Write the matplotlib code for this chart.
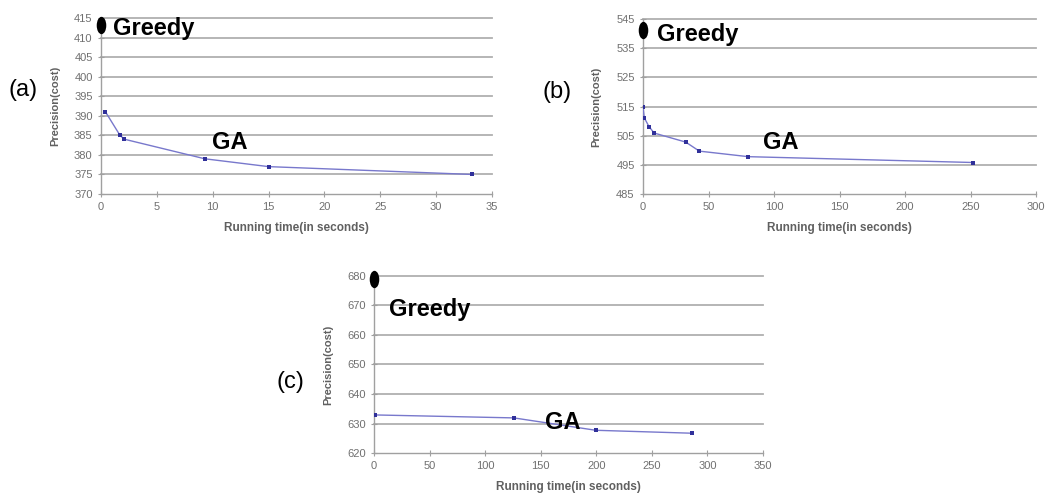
import matplotlib
matplotlib.use('Agg')
import matplotlib.pyplot as plt
from matplotlib.markers import MarkerStyle
from matplotlib.transforms import Affine2D

plt.rcParams['font.family'] = ['Liberation Sans', 'DejaVu Sans']

# panel (a)
a_time = [0.4, 1.7, 2.1, 9.3, 15.0, 33.2]
a_cost = [391, 385, 384, 379, 377, 375]
a_greedy = 413.3
# panel (b)
b_time = [0.0, 1.0, 4.6, 8.5, 32.6, 43.0, 80.3, 251.8]
b_cost = [514.8, 511.1, 508.1, 505.9, 502.8, 499.7, 497.8, 495.8]
b_greedy = 541.3
# panel (c)
c_time = [1.2, 125.8, 199.6, 286.4]
c_cost = [632.9, 631.9, 627.7, 626.7]
c_greedy = 678.9

a_xticks = list(range(0, 36, 5))
a_yticks = list(range(370, 416, 5))
b_xticks = list(range(0, 301, 50))
b_yticks = list(range(485, 546, 10))
c_xticks = list(range(0, 351, 50))
c_yticks = list(range(620, 681, 10))

W, H = 1045, 501
fig = plt.figure(figsize=(W / 100, H / 100), dpi=100)


def px_axes(left, top, right, bottom):
    return fig.add_axes([left / W, 1 - bottom / H, (right - left) / W,
                         (bottom - top) / H])


def draw_panel(ax, xs, ys, greedy, xticks, yticks, greedy_pos, ga_pos):
    ax.set_xlim(xticks[0], xticks[-1])
    ax.set_ylim(yticks[0], yticks[-1])
    ax.set_xticks(xticks)
    ax.set_yticks(yticks)
    for y in yticks[1:]:
        ax.axhline(y, color='#b0b0b0', lw=1.3, zorder=1, clip_on=False)
    for s in ['top', 'right']:
        ax.spines[s].set_visible(False)
    for s in ['left', 'bottom']:
        ax.spines[s].set_color('#a0a0a0')
        ax.spines[s].set_linewidth(1.0)
    ax.tick_params(direction='inout', length=4, width=0.8, color='#a0a0a0',
                   labelsize=8, labelcolor='#707070', pad=4)
    ax.plot(xs, ys, color='#7878cc', lw=1.0, zorder=3)
    ax.plot(xs, ys, 's', color='#30309a', ms=2.4, mew=0, zorder=4)
    ell = MarkerStyle('o', transform=Affine2D().scale(0.55, 1.0))
    ax.plot([0], [greedy], marker=ell, color='black', ms=12.5, mew=0,
            ls='none', clip_on=False, zorder=5)
    ax.text(greedy_pos[0], greedy_pos[1], 'Greedy', fontsize=17,
            fontweight='bold', va='baseline', ha='left', zorder=6)
    ax.text(ga_pos[0], ga_pos[1], 'GA', fontsize=17, fontweight='bold',
            va='baseline', ha='left', zorder=6)
    ax.set_xlabel('Running time(in seconds)', fontsize=8.5, fontweight='bold',
                  color='#606060', labelpad=7)
    ax.set_ylabel('Precision(cost)', fontsize=8, fontweight='bold',
                  color='#606060')
    ax.yaxis.set_label_coords(-0.105, 0.5)


ax_a = px_axes(101, 18, 492, 194)
draw_panel(ax_a, a_time, a_cost, a_greedy, a_xticks, a_yticks,
           (1.07, 410.6), (9.9, 381.6))

ax_b = px_axes(643, 19, 1036, 194)
draw_panel(ax_b, b_time, b_cost, b_greedy, b_xticks, b_yticks,
           (10.5, 537.6), (91.4, 500.4))

ax_c = px_axes(374, 276, 763, 453)
draw_panel(ax_c, c_time, c_cost, c_greedy, c_xticks, c_yticks,
           (13.8, 666.4), (154.2, 628.0))

fig.text(8 / W, 1 - 90 / H, '(a)', fontsize=17, va='center', ha='left')
fig.text(543 / W, 1 - 92 / H, '(b)', fontsize=17, va='center', ha='left')
fig.text(277 / W, 1 - 382 / H, '(c)', fontsize=17, va='center', ha='left')

fig.savefig('out.png', dpi=100)
